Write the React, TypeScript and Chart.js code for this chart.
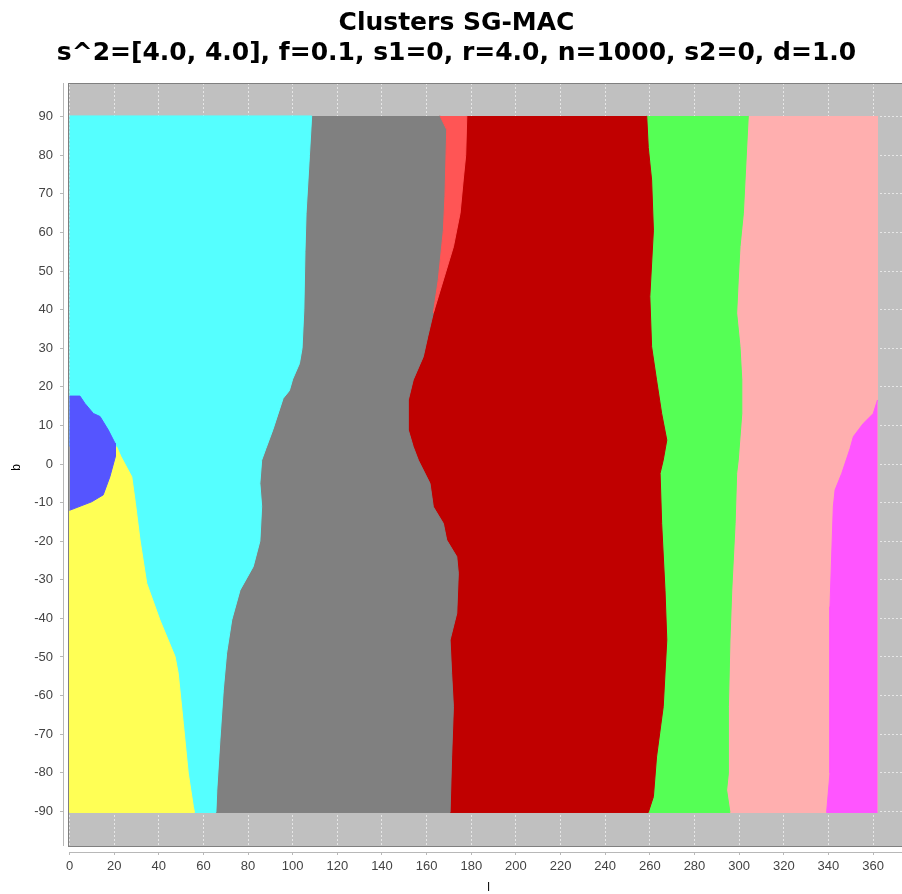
import React, { useEffect, useRef } from 'react';
import { Chart, registerables } from 'chart.js';

Chart.register(...registerables);

// ---------- text ----------
const titleLines = ['Clusters SG-MAC', 's^2=[4.0, 4.0], f=0.1, s1=0, r=4.0, n=1000, s2=0, d=1.0'];
const xAxisTitle = 'l';
const yAxisTitle = 'b';

// ---------- axes ----------
const xTicks = [0, 20, 40, 60, 80, 100, 120, 140, 160, 180, 200, 220, 240, 260, 280, 300, 320, 340, 360];
const yTicks = [-90, -80, -70, -60, -50, -40, -30, -20, -10, 0, 10, 20, 30, 40, 50, 60, 70, 80, 90];
const xRange = [-2.46, 377.9];
const yRange = [-100.54, 98.73];

// ---------- cluster boundaries [l, b] ----------
const leftEdge = [[0, 90.2], [0, -90.3]];
const rightEdge = [[362, 90.2], [362, -90.3]];

const blueEdge = [
  [0, 17.6], [4.7, 17.6], [6.9, 15.7], [10.7, 13.1], [13.7, 12.3], [17.4, 8.8], [20.4, 5.4],
  [20.6, 2], [18.1, -3.3], [15.1, -8], [9.9, -9.8], [0, -12],
];

const yellowCyanEdge = [
  [21.1, 4.5], [23, 2], [27.9, -3.3], [29.5, -10], [31.6, -19.7], [34.6, -30.9], [40.5, -40.4],
  [47.3, -49.9], [48.7, -54.2], [51, -67.2], [53.2, -80.1], [55.5, -88.8], [56, -90.3],
];

const cyanGrayEdge = [
  [108.5, 90.2], [107.5, 80], [106, 65], [105.5, 55], [105, 40], [104.2, 30], [103, 26], [100, 22],
  [98.5, 19], [95.7, 17], [91.2, 9], [88, 4], [86.1, 1], [85.3, -5], [86.1, -11], [85.3, -20],
  [82.3, -26.6], [76.4, -32.7], [72.7, -40.4], [70.4, -49], [68.9, -58.6], [67.4, -71.5],
  [66, -84.5], [65.6, -90.3],
];

const grayRedEdge = [
  [166, 90.2], [169, 86.6], [168.2, 69.3], [167.5, 60.6], [165.2, 47.7], [163, 39.1], [160.5, 33],
  [158.5, 27.8], [154, 21.8], [151.8, 16.6], [151.8, 8.8], [154, 4.5], [156.3, 1], [161.5, -5],
  [163, -11.1], [167.5, -15.4], [169, -19.7], [173.5, -24], [174.2, -28.3], [173.5, -38.7],
  [170.5, -45.6], [171.2, -54.2], [172, -62.9], [171.2, -75.9], [170.5, -90.3],
];

const lightRedEdge = [
  [178, 90.2], [177.5, 80], [176.4, 73.6], [175, 65], [172, 56.3], [167.5, 47.7], [163, 39.1],
];

const redGreenEdge = [
  [258.6, 90.2], [259.3, 82], [260.8, 73.6], [261.6, 60.6], [260, 43.4], [260.8, 30.4], [263, 21.8],
  [265.3, 13.1], [267.6, 6.2], [266, 1], [264.6, -2.4], [265.3, -15.4], [266.8, -32.7],
  [267.6, -45.6], [266, -62.9], [263, -75.9], [261.6, -86.2], [259.3, -90.3],
];

const greenPinkEdge = [
  [304.1, 90.2], [303.4, 82.2], [301.9, 65], [300.4, 56.3], [299.6, 47.7], [298.9, 39.1],
  [300.4, 30.4], [301.2, 21.8], [301.2, 13.1], [299.6, 1], [298.9, -2.4], [298.2, -15.4],
  [296.7, -32.7], [295.9, -45.6], [295.2, -62.9], [295.2, -80.1], [294.4, -84.5], [295.9, -90.3],
];

const magentaEdge = [
  [362, 16.6], [360.1, 13.1], [355.6, 10.5], [351.2, 7.1], [349.7, 4], [346, -2.4], [343, -6.7],
  [342.2, -11.1], [340.7, -37], [340.7, -62.9], [340.7, -80.1], [339.2, -90.3],
];

// ---------- build cluster polygons from the shared boundaries ----------
const rev = (a: number[][]) => [...a].reverse();
const last = (a: number[][]) => a[a.length - 1];

const junctionB = last(lightRedEdge)[1];

const clusterNames = ['C2', 'C4', 'C6', 'C1', 'C8', 'C9', 'C3', 'C5', 'C7'];
const clusterColors = ['#5555FF', '#FFFF55', '#55FFFF', '#FF5555', '#808080', '#C00000', '#55FF55', '#FF55FF', '#FFAFAF'];
const clusterPolygons = [
  blueEdge,
  [...yellowCyanEdge, [0, last(yellowCyanEdge)[1]], [0, yellowCyanEdge[0][1]]],
  [leftEdge[0], ...cyanGrayEdge, leftEdge[1]],
  [...grayRedEdge.filter((p) => p[1] > junctionB), ...rev(lightRedEdge)],
  [...cyanGrayEdge, ...rev(grayRedEdge)],
  [...grayRedEdge, ...rev(redGreenEdge)],
  [...redGreenEdge, ...rev(greenPinkEdge)],
  [...magentaEdge, rightEdge[1]],
  [...greenPinkEdge, ...rev(rightEdge)],
];

const PLOT_BG = '#C0C0C0';
const GAP_LEFT = 5;
const GAP_BOTTOM = 6;

const plotFrame = {
  id: 'plotFrame',
  beforeDraw(chart: any) {
    const { ctx, chartArea: a } = chart;
    ctx.save();
    ctx.fillStyle = PLOT_BG;
    ctx.fillRect(a.left + GAP_LEFT, a.top, a.right - a.left - GAP_LEFT, a.bottom - GAP_BOTTOM - a.top);
    ctx.restore();
  },
  afterDatasetsDraw(chart: any) {
    const { ctx, chartArea: a } = chart;
    ctx.save();
    ctx.strokeStyle = '#808080';
    ctx.lineWidth = 1;
    ctx.strokeRect(a.left + GAP_LEFT - 0.5, a.top + 0.5, a.right - a.left - GAP_LEFT + 1, a.bottom - GAP_BOTTOM - a.top);
    // axis lines
    ctx.strokeStyle = '#B8B8B8';
    ctx.beginPath();
    ctx.moveTo(a.left - 0.5, a.top);
    ctx.lineTo(a.left - 0.5, a.bottom - GAP_BOTTOM);
    ctx.moveTo(a.left + GAP_LEFT, a.bottom + 0.5);
    ctx.lineTo(a.right, a.bottom + 0.5);
    ctx.stroke();
    ctx.restore();
  },
};

export default function App() {
  const ref = useRef<HTMLCanvasElement | null>(null);

  useEffect(() => {
    if (!ref.current) return;
    const tickFont = { family: "'Liberation Sans', Arial, sans-serif", size: 13 };
    const chart = new Chart(ref.current, {
      type: 'scatter',
      data: {
        datasets: clusterPolygons.map((poly, i) => ({
          label: clusterNames[i],
          data: poly.map(([x, y]) => ({ x, y })),
          showLine: true,
          fill: 'shape',
          backgroundColor: clusterColors[i],
          borderColor: clusterColors[i],
          borderWidth: 1,
          borderJoinStyle: 'round',
          pointRadius: 0,
          pointHoverRadius: 0,
          tension: 0,
        })),
      } as any,
      options: {
        animation: false,
        responsive: false,
        devicePixelRatio: 1,
        events: [],
        layout: { padding: { right: 9 } },
        plugins: {
          legend: { display: false },
          tooltip: { enabled: false },
          title: {
            display: true,
            text: titleLines,
            color: '#000000',
            font: { family: "'DejaVu Sans', sans-serif", size: 25, weight: 'bold', lineHeight: 1.22 },
            padding: { top: 8, bottom: 14 },
          },
        },
        scales: {
          x: {
            type: 'linear',
            min: xRange[0],
            max: xRange[1],
            afterBuildTicks: (s: any) => {
              s.ticks = xTicks.map((value) => ({ value }));
            },
            afterFit: (s: any) => {
              s.height = 42;
            },
            grid: {
              color: 'rgba(255,255,255,0.6)',
              lineWidth: 1,
              tickColor: '#B8B8B8',
              tickLength: 3,
            },
            border: { display: false, dash: [2, 2] },
            ticks: { color: '#444444', font: tickFont, padding: 4, maxRotation: 0, autoSkip: false },
            title: {
              display: true,
              text: xAxisTitle,
              color: '#000000',
              font: { family: "'Liberation Sans', Arial, sans-serif", size: 12, lineHeight: 1 },
              padding: { top: 0, bottom: 0 },
            },
          },
          y: {
            type: 'linear',
            min: yRange[0],
            max: yRange[1],
            afterBuildTicks: (s: any) => {
              s.ticks = yTicks.map((value) => ({ value }));
            },
            afterFit: (s: any) => {
              s.width = 64;
            },
            grid: {
              color: 'rgba(255,255,255,0.6)',
              lineWidth: 1,
              tickColor: '#B8B8B8',
              tickLength: 4,
            },
            border: { display: false, dash: [2, 2] },
            ticks: { color: '#444444', font: tickFont, padding: 7, autoSkip: false },
            title: {
              display: true,
              text: yAxisTitle,
              color: '#000000',
              font: { family: "'Liberation Sans', Arial, sans-serif", size: 12, lineHeight: 1 },
              padding: { top: 11, bottom: 0 },
            },
          },
        },
      } as any,
      plugins: [plotFrame],
    });
    return () => chart.destroy();
  }, []);

  return (
    <div style={{ position: 'absolute', left: 0, top: 0, width: 902, height: 894, overflow: 'hidden', background: '#ffffff' }}>
      <canvas ref={ref} width={922} height={894} style={{ display: 'block' }} />
    </div>
  );
}
